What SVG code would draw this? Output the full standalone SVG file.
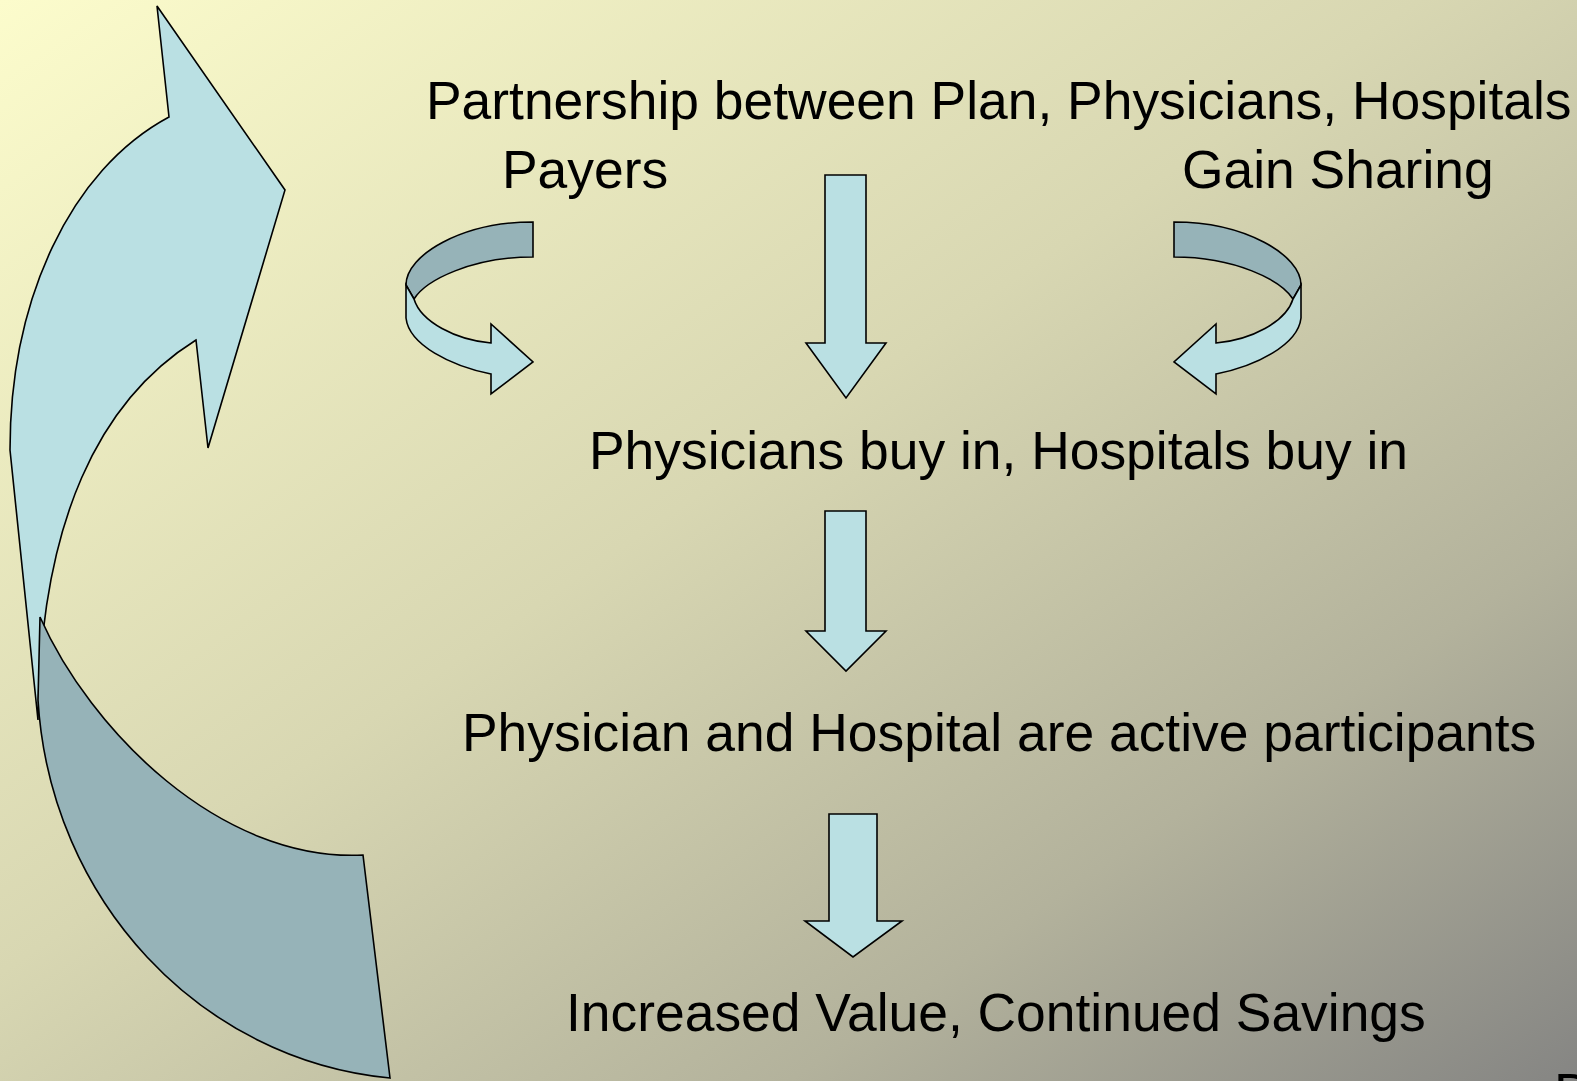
<svg xmlns="http://www.w3.org/2000/svg" width="1577" height="1081" viewBox="0 0 1577 1081">
  <defs>
    <linearGradient id="bg" x1="0" y1="0" x2="1" y2="1">
      <stop offset="0" stop-color="#FCFCCC"/>
      <stop offset="0.45" stop-color="#D8D7B2"/>
      <stop offset="0.75" stop-color="#B3B29C"/>
      <stop offset="1" stop-color="#858583"/>
    </linearGradient>
    <style>
      .lt { fill: #BAE0E3; stroke: #000; stroke-width: 1.6; stroke-linejoin: miter; }
      .dk { fill: #96B3B8; stroke: #000; stroke-width: 1.6; stroke-linejoin: miter; }
      .lbl { font-family: "Liberation Sans", Arial, sans-serif; font-size: 53.4px; fill: #000; }
    </style>
  </defs>
  <rect x="0" y="0" width="1577" height="1081" fill="url(#bg)"/>

  <g id="connectors">
    <g id="loop-arrow">
      <path class="lt" d="M 157,6 L 285,190 L 208,448 L 196,340 C 100,400 40,520 38,720 L 10,450 C 10,300 70,170 169,117 Z"/>
      <path class="dk" d="M 40,617 C 90,730 220,862 363,855 L 390,1078 C 200,1060 50,900 38,700 Z"/>
    </g>
    <g id="curve-payers">
      <path class="dk" d="M 533,222 C 462,222 406,255 406,285 L 414,299 C 426,280 472,257 533,257 Z"/>
      <path class="lt" d="M 406,285 L 406,318 C 409,345 451,366 491,374 L 491,394 L 533,362 L 491,324 L 491,343 C 456,340 421,322 414,299 Z"/>
    </g>
    <g id="curve-gain" transform="translate(1707,0) scale(-1,1)">
      <path class="dk" d="M 533,222 C 462,222 406,255 406,285 L 414,299 C 426,280 472,257 533,257 Z"/>
      <path class="lt" d="M 406,285 L 406,318 C 409,345 451,366 491,374 L 491,394 L 533,362 L 491,324 L 491,343 C 456,340 421,322 414,299 Z"/>
    </g>
    <polygon id="arrow-1" class="lt" points="825,175 866,175 866,343 886,343 846,398 806,343 825,343"/>
    <polygon id="arrow-2" class="lt" points="825,511 866,511 866,631 886,631 846,671 806,631 825,631"/>
    <polygon id="arrow-3" class="lt" points="829,814 877,814 877,921 902,921 853,957 805,921 829,921"/>
  </g>

  <g id="node-partnership"><text class="lbl" x="426" y="119">Partnership between Plan, Physicians, Hospitals</text></g>
  <g id="node-payers"><text class="lbl" x="502" y="188">Payers</text></g>
  <g id="node-gain"><text class="lbl" x="1182" y="188">Gain Sharing</text></g>
  <g id="node-buyin"><text class="lbl" x="589" y="469">Physicians buy in, Hospitals buy in</text></g>
  <g id="node-active"><text class="lbl" x="462" y="751">Physician and Hospital are active participants</text></g>
  <g id="node-value"><text class="lbl" x="566" y="1031">Increased Value, Continued Savings</text></g>
  <g id="node-footer"><text class="lbl" x="1554" y="1111">D</text></g>
</svg>
